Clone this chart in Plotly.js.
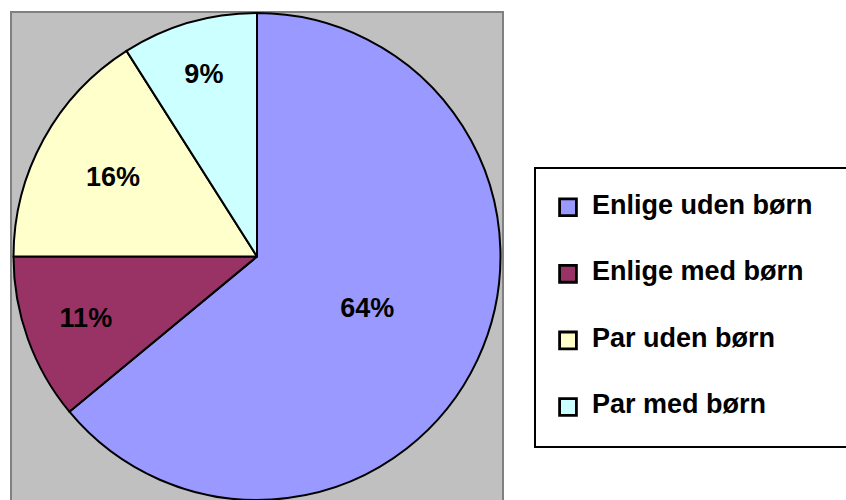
<!DOCTYPE html>
<html>
<head>
<meta charset="utf-8">
<script src="https://cdn.plot.ly/plotly-3.0.1.min.js"></script>
<style>
  html, body { margin: 0; padding: 0; background: #ffffff; }
  #chart { width: 846px; height: 500px; }
  .legendpie { transform: translate(32px, 0px) scale(1.4); }
</style>
</head>
<body>
<div id="chart"></div>
<script>
// Data
const categories = ["Enlige uden børn", "Enlige med børn", "Par uden børn", "Par med børn"];
const shares = [64, 11, 16, 9];
const sliceColors = ["#9999FF", "#993366", "#FFFFCC", "#CCFFFF"];

const FONT = "Liberation Sans, Arial, Helvetica, sans-serif";
const TEXT_SIZE = 27;

// legend entries: centre line carries the label, padded lines give Excel-like spacing
const legendLabels = categories.map(c =>
  "\u00a0<br><span style=\"font-size:" + TEXT_SIZE + "px\">" + c + "\u00a0\u00a0\u00a0\u00a0</span><br>\u00a0");

const trace = {
  type: "pie",
  labels: legendLabels,
  values: shares,
  sort: false,
  direction: "clockwise",
  rotation: 0,
  textinfo: "percent",
  textposition: "inside",
  insidetextorientation: "horizontal",
  insidetextfont: { family: FONT, size: TEXT_SIZE, color: "#000000", weight: "bold" },
  marker: { colors: sliceColors, line: { color: "#000000", width: 2 } },
  domain: { x: [13 / 846, 501 / 846], y: [0, 0.974] },
  hoverinfo: "none"
};

const layout = {
  width: 846,
  height: 500,
  margin: { l: 0, r: 0, t: 0, b: 0, pad: 0, autoexpand: false },
  paper_bgcolor: "#ffffff",
  showlegend: true,
  legend: {
    x: 534 / 846,
    xanchor: "left",
    y: 1 - 167 / 500,
    yanchor: "top",
    bgcolor: "#ffffff",
    bordercolor: "#000000",
    borderwidth: 2,
    itemwidth: 46,
    valign: "middle",
    font: { family: FONT, size: 16.3, color: "#000000", weight: "bold" }
  },
  shapes: [{
    type: "rect",
    xref: "paper", yref: "paper",
    x0: 11 / 846, x1: 503 / 846,
    y0: -0.1, y1: 1 - 12 / 500,
    fillcolor: "#C0C0C0",
    line: { color: "#808080", width: 2 },
    layer: "below"
  }]
};

Plotly.newPlot("chart", [trace], layout, { staticPlot: true, displayModeBar: false });
</script>
</body>
</html>
